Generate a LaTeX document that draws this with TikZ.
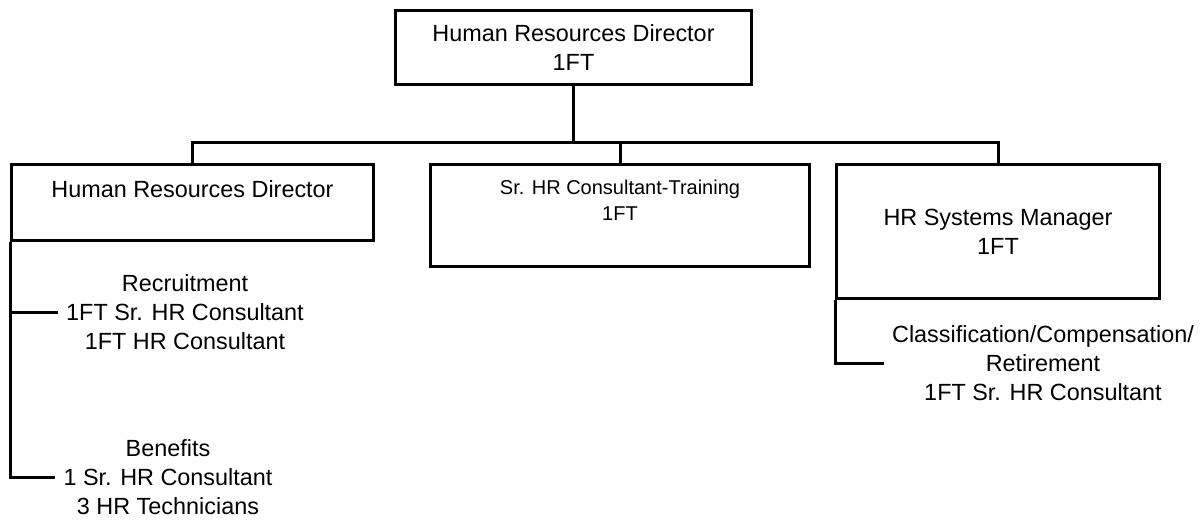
\documentclass[tikz,border=0pt]{standalone}
\usepackage{fontspec}
\setmainfont{Liberation Sans}
\usetikzlibrary{positioning}

\begin{document}
\begin{tikzpicture}[x=0.5pt, y=-0.5pt, line width=1.5pt,
  font=\fontsize{11.7}{14.5}\selectfont,
  box/.style={draw, rectangle, inner sep=0pt, anchor=north west, align=center},
  staff/.style={align=center}]
\useasboundingbox (0,0) rectangle (1202,521);

\node[box, minimum width=178pt, minimum height=37pt] (director) at (394,9) {Human Resources Director\\1FT};

\node[box, minimum width=181pt, minimum height=38pt] (hrbox) at (10,163) {};
\node[below=4.5pt of hrbox.north] (hrtext) {Human Resources Director};

\node[box, minimum width=189.5pt, minimum height=51pt] (trainbox) at (429,163) {};
\node[below=4.5pt of trainbox.north, align=center, font=\fontsize{10}{13}\selectfont] (traintext) {Sr. HR Consultant-Training\\1FT};

\node[box, minimum width=161.5pt, minimum height=67pt] (sysbox) at (835,163) {HR Systems Manager\\1FT};

\coordinate (bus) at (572,142);
\draw (director.south) -- (director.south |- bus);
\draw (hrbox.north) |- (director.south |- bus) -| (sysbox.north);
\draw (trainbox.north) -- (trainbox.north |- bus);

\node[staff] (recruit) at (185,312) {Recruitment\\1FT Sr. HR Consultant\\1FT HR Consultant};
\node[staff] (benefits) at (168,477) {Benefits\\1 Sr. HR Consultant\\3 HR Technicians};
\node[staff] (classif) at (1043,363) {Classification/Compensation/\\Retirement\\1FT Sr. HR Consultant};

\draw (hrbox.south west) |- (benefits.west);
\draw (hrbox.south west |- recruit.west) -- (recruit.west);
\draw (sysbox.south west) |- (classif.west);
\end{tikzpicture}
\end{document}
